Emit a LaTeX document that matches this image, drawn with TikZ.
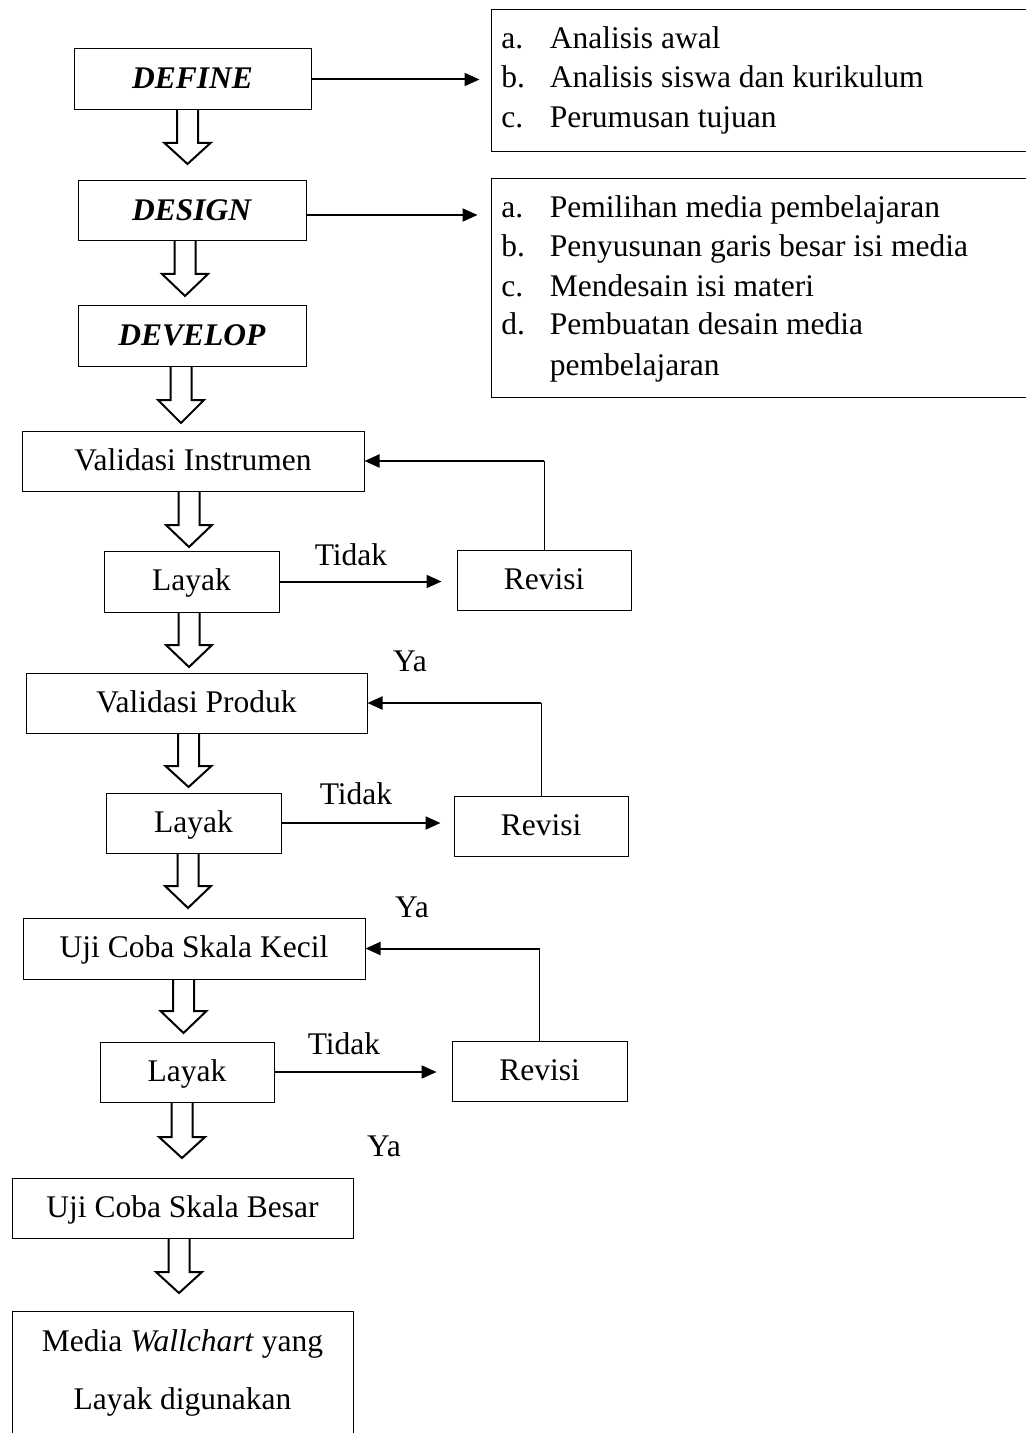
\documentclass[tikz,border=0pt]{standalone}
\usepackage{fontspec}
\setmainfont{Liberation Serif}
\usetikzlibrary{arrows.meta,calc}
\newcommand\fs{\fontsize{15.75}{19}\selectfont}
\newcommand\hollowarr[4]{%
  \draw[hol] (#1-10.5,#2) -- (#1-10.5,#3) -- (#1-23,#3) -- (#1,#4) -- (#1+23,#3) -- (#1+10.5,#3) -- (#1+10.5,#2);}
\tikzset{
  box/.style={draw, line width=0.5pt, inner sep=0pt, font=\fs, text height=0.92em, text depth=0pt},
  lbl/.style={inner sep=0pt, font=\fs, text height=0.92em, text depth=0pt},
  item/.style={inner sep=0pt, font=\fs, anchor=base west},
  hol/.style={line width=1pt, line join=miter},
  arr/.style={line width=1pt, -{Triangle[length=7.5pt,width=6.5pt]}},
  thinln/.style={line width=0.5pt},
}
\begin{document}
\begin{tikzpicture}[x=0.5pt,y=-0.5pt]
\useasboundingbox (0,0) rectangle (1025,1433);
% top stages
\node[box, minimum width=118.5pt, minimum height=30.5pt] (def) at (192.5,79.5) {\textbf{\textit{DEFINE}}};
\node[box, minimum width=114pt, minimum height=30pt] (des) at (192,211) {\textbf{\textit{DESIGN}}};
\node[box, minimum width=114pt, minimum height=30pt] (dev) at (192,336) {\textbf{\textit{DEVELOP}}};
% list boxes
\node[draw, line width=0.5pt, inner sep=0pt, minimum width=269.5pt, minimum height=71pt] (boxa) at (760.5,81) {};
\node[draw, line width=0.5pt, inner sep=0pt, minimum width=269.5pt, minimum height=109pt] (boxb) at (760.5,288) {};
\node[item] (a1) at (501,49) {a.};
\node[item] (a1t) at (549.5,49) {Analisis awal};
\node[item] (a2) at (501,88) {b.};
\node[item] (a2t) at (549.5,88) {Analisis siswa dan kurikulum};
\node[item] (a3) at (501,128) {c.};
\node[item] (a3t) at (549.5,128) {Perumusan tujuan};
\node[item] (b1) at (501,218) {a.};
\node[item] (b1t) at (549.5,218) {Pemilihan media pembelajaran};
\node[item] (b2) at (501,257) {b.};
\node[item] (b2t) at (549.5,257) {Penyusunan garis besar isi media};
\node[item] (b3) at (501,297) {c.};
\node[item] (b3t) at (549.5,297) {Mendesain isi materi};
\node[item] (b4) at (501,335) {d.};
\node[item] (b4t) at (549.5,335) {Pembuatan desain media};
\node[item] (b5t) at (549.5,375) {pembelajaran};
\draw[arr, shorten >=5.5pt] (def.east) -- (def.east -| boxa.west);
\coordinate (desout) at (306,215);
\draw[arr, shorten >=6.5pt] (desout) -- (desout -| boxb.west);
% main flow
\node[box, minimum width=171pt, minimum height=30pt] (vi) at (193,461) {Validasi Instrumen};
\node[box, minimum width=87.5pt, minimum height=30.5pt] (l1) at (191.5,581.5) {Layak};
\node[box, minimum width=87pt, minimum height=30pt] (r1) at (544,580) {Revisi};
\node[box, minimum width=170.5pt, minimum height=30pt] (vp) at (196.5,703) {Validasi Produk};
\node[box, minimum width=87.5pt, minimum height=30pt] (l2) at (193.5,823) {Layak};
\node[box, minimum width=87pt, minimum height=30pt] (r2) at (541,826) {Revisi};
\node[box, minimum width=171pt, minimum height=30.5pt] (uk) at (194,948.5) {Uji Coba Skala Kecil};
\node[box, minimum width=87pt, minimum height=30pt] (l3) at (187,1072) {Layak};
\node[box, minimum width=87.5pt, minimum height=30pt] (r3) at (539.5,1071) {Revisi};
\node[box, minimum width=170.5pt, minimum height=30pt] (ub) at (182.5,1208) {Uji Coba Skala Besar};
\node[draw, line width=0.5pt, inner sep=0pt, minimum width=170.5pt, minimum height=64.5pt] (fin) at (182.5,1375.5) {};
\node[lbl] (fin1) at (182.5,1342) {Media \textit{Wallchart} yang};
\node[lbl] (fin2) at (182.5,1400) {Layak digunakan};
% labels
\node[lbl] (t1) at (351,556) {Tidak};
\node[lbl] (t2) at (356,795) {Tidak};
\node[lbl] (t3) at (344,1045) {Tidak};
\node[lbl] (y1) at (410,662) {Ya};
\node[lbl] (y2) at (412,908) {Ya};
\node[lbl] (y3) at (384,1147) {Ya};
% Tidak arrows
\draw[arr, shorten >=7.5pt] (l1.east) -- (l1.east -| r1.west);
\draw[arr, shorten >=6.5pt] (l2.east) -- (l2.east -| r2.west);
\draw[arr, shorten >=7.5pt] (l3.east) -- (l3.east -| r3.west);
% feedback
\draw[thinln] (r1.north) -- (r1.north |- vi.east) coordinate (f1);
\draw[arr] (f1) -- (vi.east);
\draw[thinln] (r2.north) -- (r2.north |- vp.east) coordinate (f2);
\draw[arr] (f2) -- (vp.east);
\draw[thinln] (r3.north) -- (r3.north |- uk.east) coordinate (f3);
\draw[arr] (f3) -- (uk.east);
% hollow arrows
\hollowarr{187.5}{110}{143}{164}
\hollowarr{185}{241}{274}{296}
\hollowarr{181}{366}{400}{423}
\hollowarr{189}{491}{525}{547}
\hollowarr{189}{612}{645}{667}
\hollowarr{188.5}{733}{766}{787}
\hollowarr{188}{853}{886}{908}
\hollowarr{183.5}{979}{1011}{1033}
\hollowarr{182}{1102}{1137}{1158}
\hollowarr{179}{1238}{1272}{1293}
\end{tikzpicture}
\end{document}
